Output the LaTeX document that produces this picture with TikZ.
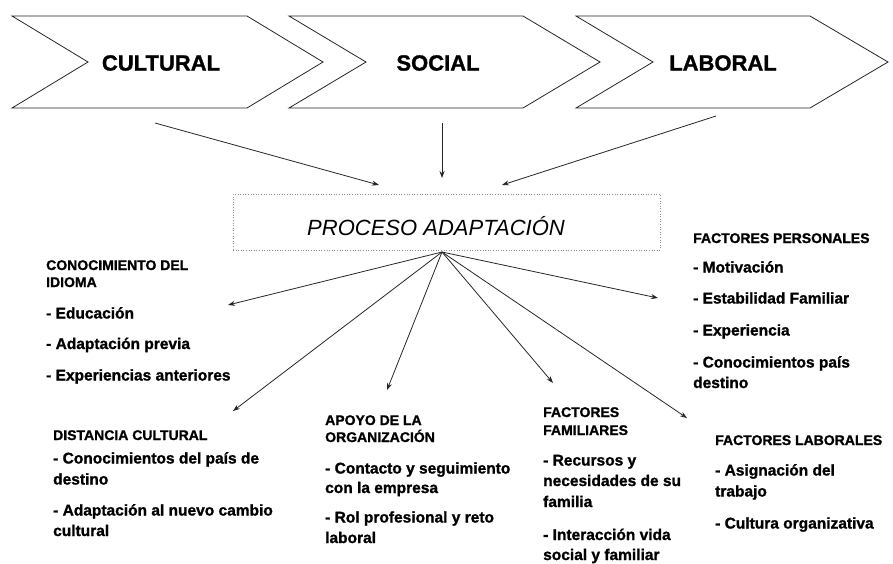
\documentclass[tikz,border=0pt]{standalone}
\usepackage{fontspec}
\setmainfont{Liberation Sans}[BoldFeatures={FakeBold=1.2}]
\usetikzlibrary{arrows.meta}
\tikzset{
  chev/.style={draw=black!85, line width=0.8pt, fill=white},
  chevlabel/.style={font=\bfseries\fontsize{22}{26}\selectfont, inner sep=0pt},
  procbox/.style={draw=black!45, dotted, line width=0.6pt, minimum width=427pt, minimum height=56pt, inner sep=0pt},
  proclabel/.style={font=\itshape\fontsize{22}{26}\selectfont, inner sep=0pt, anchor=base},
  tit/.style={font=\bfseries\fontsize{14}{16}\selectfont, inner sep=0pt, anchor=base west},
  itm/.style={font=\bfseries\fontsize{15.5}{18}\selectfont, inner sep=0pt, anchor=base west},
  arr/.style={draw=black!85, line width=0.8pt, -{Stealth[length=7pt,width=5pt]}}
}
\begin{document}
\begin{tikzpicture}[x=1pt,y=-1pt]
\useasboundingbox (0,0) rectangle (893,563);
% chevrons
\draw[chev] (12,16) -- (247,16) -- (323,62) -- (247,108) -- (12,108) -- (88,62) -- cycle;
\draw[chev] (289,16) -- (523,16) -- (600,62) -- (523,108) -- (289,108) -- (366,62) -- cycle;
\draw[chev] (576,16) -- (810,16) -- (888,62) -- (810,108) -- (576,108) -- (653,62) -- cycle;
\node[chevlabel] (cul) at (161,63) {CULTURAL};
\node[chevlabel] (soc) at (438,63) {SOCIAL};
\node[chevlabel] (lab) at (723,63) {LABORAL};
% process box
\node[procbox] (box) at (446.5,222) {};
\node[proclabel] (proc) at (436,235) {PROCESO ADAPTACIÓN};
% top arrows
\coordinate (t1s) at (155,123);
\coordinate (t1e) at (379,185);
\coordinate (t2s) at (442,123);
\coordinate (t2e) at (442,178);
\coordinate (t3s) at (716,116);
\coordinate (t3e) at (502,185);
\draw[arr] (t1s) -- (t1e);
\draw[arr] (t2s) -- (t2e);
\draw[arr] (t3s) -- (t3e);
% fan arrows
\coordinate (hub) at (442,252);
\coordinate (f1) at (228,305);
\coordinate (f2) at (233,411);
\coordinate (f3) at (387,390);
\coordinate (f4) at (553,383);
\coordinate (f5) at (658,298);
\coordinate (f6) at (687,418);
\foreach \e in {f1,f2,f3,f4,f5,f6} \draw[arr] (hub) -- (\e);
% Conocimiento del idioma
\node[tit] (a1) at (46,270) {CONOCIMIENTO DEL};
\node[tit] (a2) at (46,287) {IDIOMA};
\node[itm] (a3) at (46,318.5) {- Educación};
\node[itm] (a4) at (46,349) {- Adaptación previa};
\node[itm] (a5) at (46,380.5) {- Experiencias anteriores};
% Factores personales
\node[tit] (b1) at (693,243) {FACTORES PERSONALES};
\node[itm] (b2) at (693,272.5) {- Motivación};
\node[itm] (b3) at (693,303.5) {- Estabilidad Familiar};
\node[itm] (b4) at (693,335.5) {- Experiencia};
\node[itm] (b5) at (693,367.5) {- Conocimientos país};
\node[itm] (b6) at (693,388) {destino};
% Distancia cultural
\node[tit] (c1) at (53,440) {DISTANCIA CULTURAL};
\node[itm] (c2) at (53,463.5) {- Conocimientos del país de};
\node[itm] (c3) at (53,484.5) {destino};
\node[itm] (c4) at (53,515.5) {- Adaptación al nuevo cambio};
\node[itm] (c5) at (53,536) {cultural};
% Apoyo de la organizacion
\node[tit] (d1) at (325,425) {APOYO DE LA};
\node[tit] (d2) at (325,442) {ORGANIZACIÓN};
\node[itm] (d3) at (325,473.5) {- Contacto y seguimiento};
\node[itm] (d4) at (325,493) {con la empresa};
\node[itm] (d5) at (325,522.5) {- Rol profesional y reto};
\node[itm] (d6) at (325,543) {laboral};
% Factores familiares
\node[tit] (e1) at (543,417) {FACTORES};
\node[tit] (e2) at (543,435) {FAMILIARES};
\node[itm] (e3) at (543,465.5) {- Recursos y};
\node[itm] (e4) at (543,486) {necesidades de su};
\node[itm] (e5) at (543,507) {familia};
\node[itm] (e6) at (543,540) {- Interacción vida};
\node[itm] (e7) at (543,560) {social y familiar};
% Factores laborales
\node[tit] (g1) at (715,445) {FACTORES LABORALES};
\node[itm] (g2) at (715,475.5) {- Asignación del};
\node[itm] (g3) at (715,496.5) {trabajo};
\node[itm] (g4) at (715,528.5) {- Cultura organizativa};
\end{tikzpicture}
\end{document}
